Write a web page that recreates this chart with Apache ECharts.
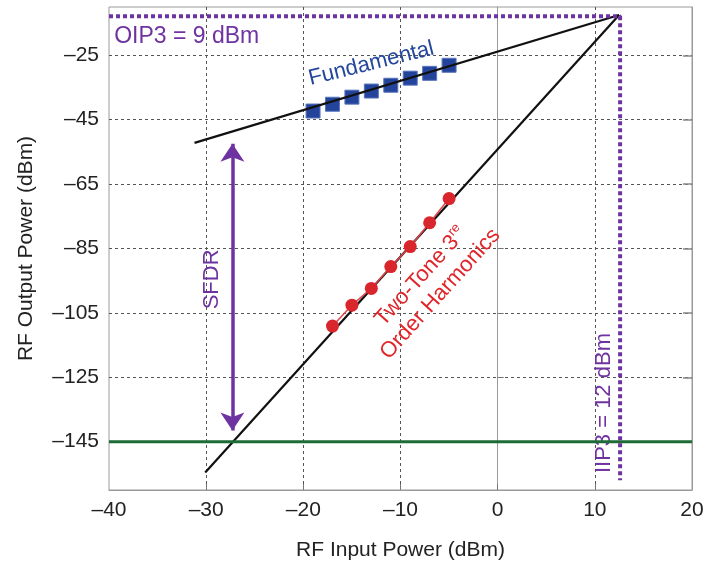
<!DOCTYPE html>
<html>
<head>
<meta charset="utf-8">
<script src="https://cdn.jsdelivr.net/npm/echarts@6/dist/echarts.min.js"></script>
<style>
  html, body { margin: 0; background: #fff; }
  #chart { width: 716px; height: 570px; }
</style>
</head>
<body>
<div id="chart"></div>
<script>
// tick labels
var xTicks = [-40, -30, -20, -10, 0, 10, 20];
var xGrid = [-30, -20, -10, 0, 10];
var yTicks = [-145, -125, -105, -85, -65, -45, -25];

// measured points
var fundIn = [-19, -17, -15, -13, -11, -9, -7, -5];
var fundOut = [-42.3, -40.2, -38.0, -36.1, -34.3, -32.1, -30.6, -28.1];
var imdIn = [-17, -15, -13, -11, -9, -7, -5];
var imdOut = [-109.1, -102.6, -97.4, -90.6, -84.4, -77.0, -69.5];

// fitted lines and markers
var fundLine = [[-31.2, -52.2], [12.5, -12.5]];
var imdLine = [[-30.1, -154.6], [12.5, -12.5]];
var noiseFloor = [[-40, -145], [20, -145]];
var ip3Path = [[-40, -12.9], [12.6, -12.9], [12.6, -157]];
var sfdrArrow = [[-27.3, -52.5], [-27.3, -141.5]];

var PURPLE = '#6e33a1';
var FONT = 'Liberation Sans';

function dash(v) { return v < 0 ? '\u2013' + Math.abs(v) : String(v); }
function zip(a, b) { return a.map(function (v, i) { return [v, b[i]]; }); }

var chart = echarts.init(document.getElementById('chart'));

var option = {
    animation: false,
    textStyle: { fontFamily: FONT },
    grid: { left: 109, right: 24, top: 7, bottom: 80, show: true, borderColor: '#9a9a9a', borderWidth: 1 },
    xAxis: {
        type: 'value', min: -40, max: 20, interval: 10,
        name: 'RF Input Power (dBm)', nameLocation: 'middle', nameGap: 50,
        nameTextStyle: { fontSize: 21, color: '#222', fontFamily: FONT },
        axisLine: { lineStyle: { color: '#9a9a9a' } },
        axisTick: { inside: true, length: 6, customValues: xGrid, lineStyle: { color: '#777' } },
        axisLabel: { fontSize: 21, color: '#222', margin: 10, customValues: xTicks, formatter: dash },
        splitLine: { show: true, lineStyle: { color: '#555', type: [3, 3] } }
    },
    yAxis: [{
        type: 'value', min: -160, max: -10,
        name: 'RF Output Power (dBm)', nameLocation: 'middle', nameGap: 72,
        nameTextStyle: { fontSize: 21, color: '#222', fontFamily: FONT },
        axisLine: { show: true, lineStyle: { color: '#9a9a9a' } },
        axisTick: { show: true, inside: true, length: 6, customValues: yTicks, lineStyle: { color: '#777' } },
        axisLabel: { fontSize: 21, color: '#222', margin: 10, customValues: yTicks, formatter: dash },
        splitLine: { show: true, lineStyle: { color: '#555', type: [3, 3] } }
    }, {
        type: 'value', min: -160, max: -10, position: 'right',
        axisLine: { show: true, lineStyle: { color: '#9a9a9a' } },
        axisTick: { show: true, inside: true, length: 9, customValues: yTicks, lineStyle: { color: '#888', width: 1.5 } },
        axisLabel: { show: false },
        splitLine: { show: false }
    }],
    series: [
        {
            type: 'line', data: fundLine, symbol: 'none', silent: true,
            lineStyle: { color: '#111', width: 2.2 }
        },
        {
            type: 'line', data: imdLine, symbol: 'none', silent: true,
            lineStyle: { color: '#111', width: 2.2 }
        },
        {
            type: 'line', data: noiseFloor, symbol: 'none', silent: true,
            lineStyle: { color: '#1d6b36', width: 3 },
            markLine: {
                silent: true, symbol: ['arrow', 'arrow'], symbolSize: [18, 18],
                label: { show: false },
                lineStyle: { color: PURPLE, width: 3.5, type: 'solid' },
                data: [[{ coord: sfdrArrow[0] }, { coord: sfdrArrow[1] }]]
            }
        },
        {
            type: 'line', data: ip3Path, symbol: 'none', silent: true,
            lineStyle: { color: PURPLE, width: 4, type: [4, 3] }
        },
        {
            type: 'line', data: zip(imdIn, imdOut), symbol: 'circle', symbolSize: 13,
            lineStyle: { color: '#e0474c', width: 1.5 },
            itemStyle: { color: '#d9262c', opacity: 1 }
        },
        {
            type: 'scatter', data: zip(fundIn, fundOut), symbol: 'rect', symbolSize: 14,
            itemStyle: { color: '#23449a', borderColor: '#5876bd', borderWidth: 1, opacity: 1 }
        },
        {
            type: 'scatter', symbolSize: 1, silent: true,
            itemStyle: { color: 'rgba(0,0,0,0)', opacity: 1 },
            label: { show: true, position: 'inside', fontFamily: FONT, fontSize: 22, opacity: 1 },
            data: [
                { value: [-32.0, -19.1], label: { formatter: 'OIP3 = 9 dBm', color: PURPLE, fontSize: 23 } },
                { value: [-13.0, -27.6], label: { formatter: 'Fundamental', color: '#24479c', rotate: 14 } },
                { value: [-29.4, -94.6], label: { formatter: 'SFDR', color: PURPLE, rotate: 90 } },
                { value: [10.9, -133], label: { formatter: 'IIP3 = 12 dBm', color: PURPLE, rotate: 90 } },
                {
                    value: [-6.9, -96.4],
                    label: {
                        rotate: 48, color: '#e0262b', align: 'center',
                        formatter: '{a|Two-Tone 3}{s|re}\n{a|Order Harmonics}',
                        rich: {
                            a: { fontSize: 22, lineHeight: 26, color: '#e0262b', fontFamily: FONT },
                            s: { fontSize: 13, lineHeight: 26, verticalAlign: 'top', color: '#e0262b', fontFamily: FONT }
                        }
                    }
                }
            ]
        }
    ]
};

chart.setOption(option);
</script>
</body>
</html>
